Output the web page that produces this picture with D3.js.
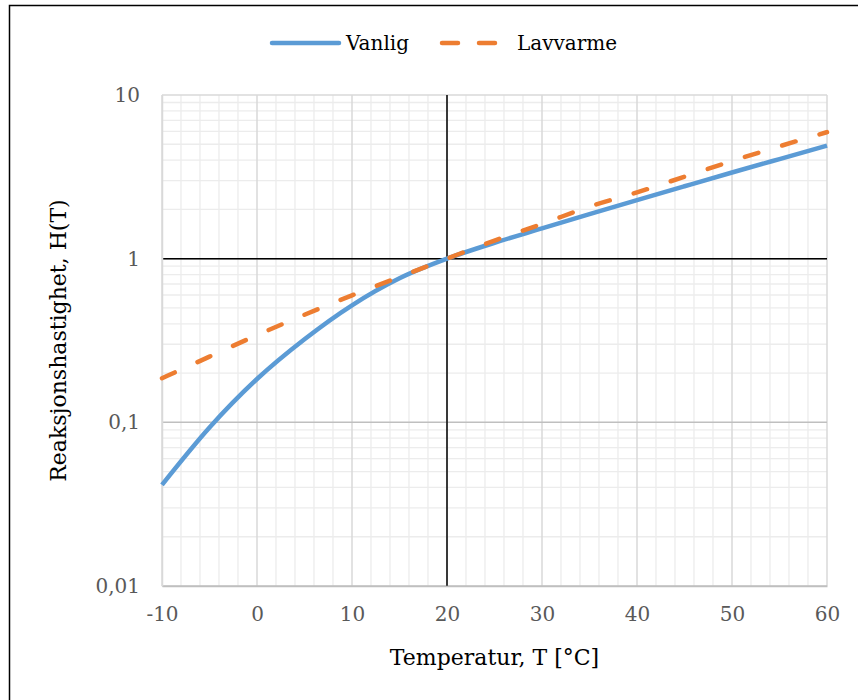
<!DOCTYPE html>
<html>
<head>
<meta charset="utf-8">
<script src="https://cdn.jsdelivr.net/npm/d3@7"></script>
<style>
    body { margin: 0; background: #ffffff; }
    text { font-family: "DejaVu Serif", serif; }
</style>
</head>
<body>
<div id="d3_container"></div>
<script>
// Reaction rate H(T) vs temperature, log y axis

// data
var temps = [-10, -5, 0, 5, 10, 15, 20, 25, 30, 35, 40, 45, 50, 55, 60];
var vanlig = [0.0415, 0.093, 0.184, 0.322, 0.519, 0.759, 1.0, 1.25, 1.53, 1.87, 2.28, 2.77, 3.36, 4.06, 4.9];
var lavvarme = [0.186, 0.252, 0.341, 0.454, 0.597, 0.773, 1.0, 1.29, 1.63, 2.08, 2.54, 3.17, 3.95, 4.86, 5.93];
var seriesNames = ["Vanlig", "Lavvarme"];
var xTicks = [-10, 0, 10, 20, 30, 40, 50, 60];
var yTicks = [0.01, 0.1, 1, 10];
var yTickLabels = ["0,01", "0,1", "1", "10"];

// drawing params
const width = 858,
    height = 700,
    pLeft = 162, pRight = 827, pTop = 95, pBottom = 586,
    blue = "#5b9bd5",
    orange = "#ed7d31",
    lw = 4.5;

var svg = d3.select("#d3_container").append("svg")
    .attr("width", width)
    .attr("height", height);

// outer frame (only left and top edges fall inside the picture)
svg.append("rect")
    .attr("x", 9.5).attr("y", 5.5)
    .attr("width", 1000).attr("height", 1000)
    .attr("fill", "none")
    .attr("stroke", "#000")
    .attr("stroke-width", 1.5);

var x = d3.scaleLinear().domain([-10, 60]).range([pLeft, pRight]);
var y = d3.scaleLog().domain([0.01, 10]).range([pBottom, pTop]);

// minor grid
var xMinor = d3.range(-10, 61, 2).filter(function(t) { return t % 10 != 0; });
var yMinor = [];
[0.01, 0.1, 1].forEach(function(d) {
    for (var k = 2; k <= 9; k++) yMinor.push(d * k);
});

var grid = svg.append("g");
grid.selectAll(".xmin").data(xMinor).enter().append("line")
    .attr("x1", function(d) { return x(d); }).attr("x2", function(d) { return x(d); })
    .attr("y1", pTop).attr("y2", pBottom)
    .attr("stroke", "#ececec").attr("stroke-width", 1.3);
grid.selectAll(".ymin").data(yMinor).enter().append("line")
    .attr("x1", pLeft).attr("x2", pRight)
    .attr("y1", function(d) { return y(d); }).attr("y2", function(d) { return y(d); })
    .attr("stroke", "#ececec").attr("stroke-width", 1.3);

// major grid
grid.selectAll(".xmaj").data(xTicks).enter().append("line")
    .attr("x1", function(d) { return x(d); }).attr("x2", function(d) { return x(d); })
    .attr("y1", pTop).attr("y2", pBottom)
    .attr("stroke", "#d9d9d9").attr("stroke-width", 1.5);
grid.selectAll(".ymaj").data(yTicks).enter().append("line")
    .attr("x1", pLeft).attr("x2", pRight)
    .attr("y1", function(d) { return y(d); }).attr("y2", function(d) { return y(d); })
    .attr("stroke", function(d) { return d == 10 ? "#d9d9d9" : "#bfbfbf"; })
    .attr("stroke-width", 1.5);

// axes crossing at T=20 and H=1
svg.append("line")
    .attr("x1", x(20)).attr("x2", x(20)).attr("y1", pTop).attr("y2", pBottom)
    .attr("stroke", "#000").attr("stroke-width", 1.5);
svg.append("line")
    .attr("x1", pLeft).attr("x2", pRight).attr("y1", y(1)).attr("y2", y(1))
    .attr("stroke", "#000").attr("stroke-width", 1.5);

// tick labels
var xAxis = d3.axisBottom(x).tickValues(xTicks).tickSize(0).tickPadding(21)
    .tickFormat(function(d) { return d; });
var gx = svg.append("g").attr("transform", "translate(0," + pBottom + ")").call(xAxis);
gx.select(".domain").attr("stroke", "#bfbfbf").attr("stroke-width", 1.5);
gx.selectAll("text").attr("fill", "#595959").style("font-size", "20px")
    .style("font-family", "DejaVu Serif");

var yAxis = d3.axisLeft(y).tickValues(yTicks).tickSize(0).tickPadding(22)
    .tickFormat(function(d, i) { return yTickLabels[i]; });
var gy = svg.append("g").attr("transform", "translate(" + pLeft + ",0)").call(yAxis);
gy.select(".domain").attr("stroke", "#d9d9d9").attr("stroke-width", 1.5);
gy.selectAll("text").attr("fill", "#595959").style("font-size", "20px")
    .style("font-family", "DejaVu Serif");

// lines
var line = d3.line()
    .x(function(d, i) { return x(temps[i]); })
    .y(function(d) { return y(d); })
    .curve(d3.curveMonotoneX);

svg.append("path").datum(vanlig)
    .attr("d", line)
    .attr("fill", "none")
    .attr("stroke", blue)
    .attr("stroke-width", lw);
svg.append("path").datum(lavvarme)
    .attr("d", line)
    .attr("fill", "none")
    .attr("stroke", orange)
    .attr("stroke-width", lw)
    .attr("stroke-linecap", "round")
    .attr("stroke-dasharray", "14,25");

// axis titles
svg.append("text")
    .attr("x", (pLeft + pRight) / 2).attr("y", 665)
    .attr("text-anchor", "middle")
    .attr("fill", "#000")
    .style("font-size", "22px")
    .text("Temperatur, T [°C]");
svg.append("text")
    .attr("transform", "translate(66," + (pTop + pBottom) / 2 + ") rotate(-90)")
    .attr("text-anchor", "middle")
    .attr("fill", "#000")
    .style("font-size", "22px")
    .text("Reaksjonshastighet, H(T)");

// legend
var leg = svg.append("g");
leg.append("line")
    .attr("x1", 272).attr("x2", 339).attr("y1", 43).attr("y2", 43)
    .attr("stroke", blue).attr("stroke-width", lw).attr("stroke-linecap", "round");
leg.append("text").attr("x", 346).attr("y", 50)
    .style("font-size", "20px").attr("fill", "#000").text(seriesNames[0]);
leg.append("line")
    .attr("x1", 442).attr("x2", 498).attr("y1", 43).attr("y2", 43)
    .attr("stroke", orange).attr("stroke-width", lw).attr("stroke-linecap", "round")
    .attr("stroke-dasharray", "16,21");
leg.append("text").attr("x", 517).attr("y", 50)
    .style("font-size", "20px").attr("fill", "#000").text(seriesNames[1]);
</script>
</body>
</html>
